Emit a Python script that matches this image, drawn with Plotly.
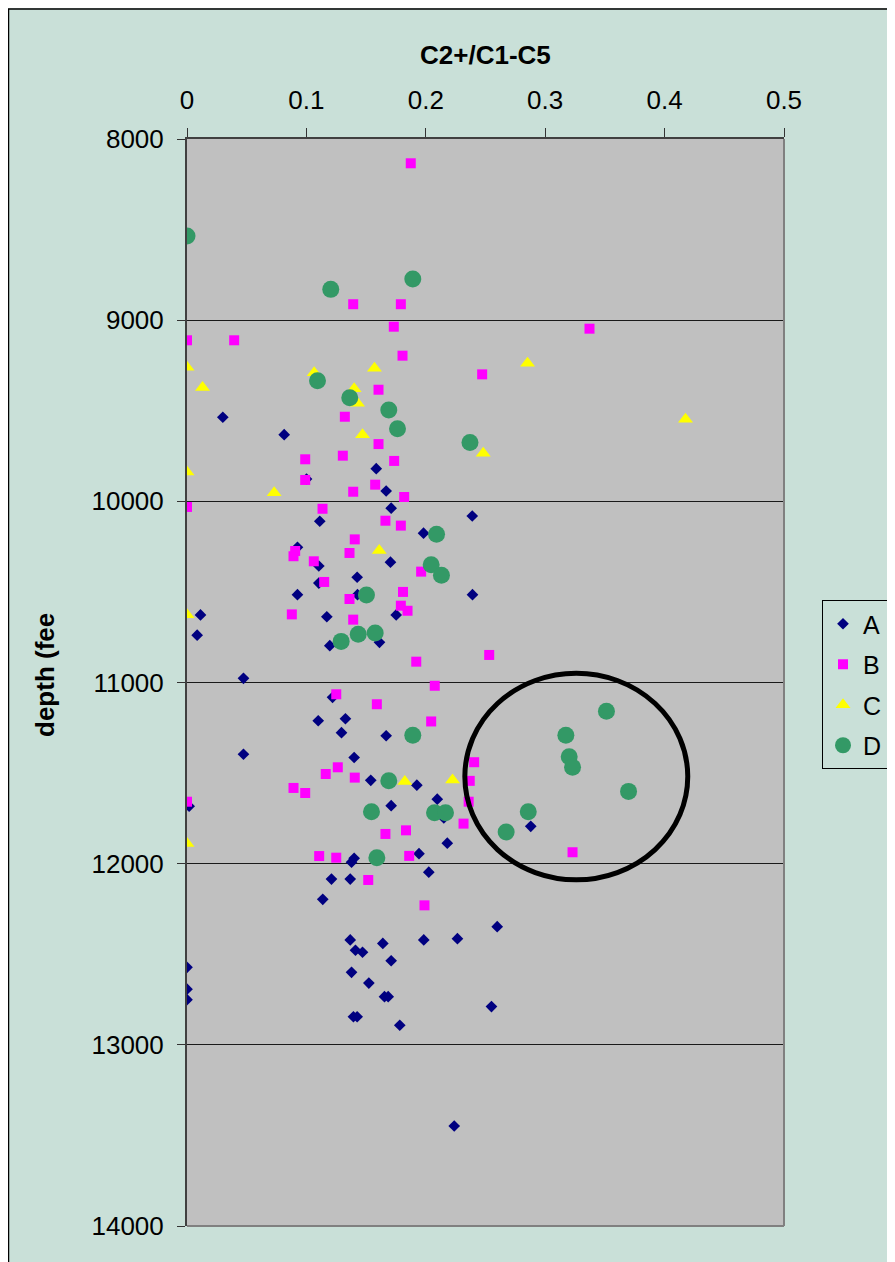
import plotly.graph_objects as go

# ---- data: (C2+/C1-C5 ratio, depth in feet) ----
a_ratio = [0.0300, 0.0814, 0.1585, 0.1001, 0.1668, 0.1710, 0.2389, 0.1112, 0.1981, 0.0925,
           0.1704, 0.1104, 0.1425, 0.1104, 0.1428, 0.0925, 0.2391, 0.0113, 0.1171, 0.1752,
           0.0085, 0.1196, 0.1612, 0.0473, 0.1219, 0.1099, 0.1327, 0.1294, 0.1668, 0.0473,
           0.1400, 0.1539, 0.1925, 0.2096, 0.2151, 0.2879, 0.2180, 0.1943, 0.2025, 0.0018,
           0.1710, 0.1400, 0.1378, 0.1210, 0.1367, 0.1137, 0.1367, 0.1411, 0.1470, 0.1640,
           0.1710, 0.1983, 0.2265, 0.2598, 0.0000, 0.1378, 0.1523, 0.0000, 0.0000, 0.1654,
           0.1685, 0.1394, 0.1425, 0.1782, 0.2550, 0.2238]
a_depth = [9536, 9632, 9820, 9877, 9943, 10038, 10081, 10110, 10176, 10254,
           10336, 10357, 10419, 10451, 10515, 10515, 10515, 10627, 10637, 10627,
           10739, 10797, 10778, 10977, 11082, 11211, 11200, 11277, 11294, 11396,
           11414, 11540, 11567, 11644, 11748, 11794, 11887, 11945, 12047, 11683,
           11680, 11970, 11992, 12085, 12085, 12197, 12421, 12478, 12489, 12440,
           12536, 12421, 12414, 12348, 12572, 12600, 12659, 12693, 12751, 12734,
           12734, 12845, 12845, 12892, 12789, 13448]

b_ratio = [0.1874, 0.1392, 0.1791, 0.1732, 0.0000, 0.0395, 0.1805, 0.2472, 0.1604, 0.1322,
           0.1604, 0.3371, 0.0990, 0.1305, 0.1735, 0.0990, 0.1576, 0.1392, 0.1819, 0.0000,
           0.1135, 0.1662, 0.1791, 0.1405, 0.1361, 0.0906, 0.0892, 0.1062, 0.1149, 0.1961,
           0.1809, 0.1361, 0.1791, 0.1847, 0.0878, 0.1392, 0.1920, 0.2531, 0.2075, 0.1250,
           0.1590, 0.2045, 0.2405, 0.2368, 0.2359, 0.2316, 0.1834, 0.1861, 0.3229, 0.1263,
           0.1162, 0.1405, 0.0892, 0.0990, 0.0000, 0.1662, 0.1107, 0.1250, 0.1518, 0.1989]
b_depth = [8134, 8912, 8912, 9036, 9111, 9111, 9196, 9299, 9384, 9533,
           9684, 9047, 9768, 9748, 9777, 9882, 9908, 9947, 9976, 10031,
           10041, 10107, 10134, 10210, 10285, 10274, 10303, 10331, 10445, 10388,
           10500, 10539, 10576, 10604, 10624, 10653, 10885, 10848, 11018, 11065,
           11120, 11215, 11440, 11543, 11658, 11779, 11816, 11957, 11937, 11468,
           11505, 11525, 11582, 11610, 11658, 11836, 11958, 11967, 12090, 12230]

c_ratio = [0.0000, 0.0130, 0.1065, 0.1570, 0.1400, 0.1428, 0.1470, 0.2481, 0.0000, 0.0730,
           0.1610, 0.0000, 0.2852, 0.4175, 0.1824, 0.2224, 0.0000]
c_depth = [9260, 9371, 9290, 9266, 9378, 9459, 9632, 9735, 9838, 9952,
           10272, 10626, 9238, 9547, 11546, 11538, 11888]

d_ratio = [0.0000, 0.1204, 0.1891, 0.1093, 0.1363, 0.1690, 0.1763, 0.2370, 0.2090, 0.2045,
           0.2131, 0.1503, 0.1576, 0.1434, 0.1291, 0.1891, 0.3513, 0.3173, 0.3201, 0.3229,
           0.3698, 0.2858, 0.2673, 0.1690, 0.1545, 0.2073, 0.2165, 0.1590]
d_depth = [8535, 8830, 8773, 9334, 9428, 9496, 9599, 9675, 10182, 10350,
           10408, 10517, 10727, 10734, 10773, 11291, 11159, 11291, 11410, 11468,
           11601, 11713, 11825, 11542, 11713, 11719, 11719, 11967]

series_names = ["A", "B", "C", "D"]
x_ticks = [0, 0.1, 0.2, 0.3, 0.4, 0.5]
y_ticks = [8000, 9000, 10000, 11000, 12000, 13000, 14000]
highlight = dict(x0=0.2327, x1=0.4194, y0=10949, y1=12089)

BG = "#C9E0D8"
FONT = "Liberation Sans, Arial, sans-serif"

fig = go.Figure()
styles = [
    (a_ratio, a_depth, dict(symbol="diamond", size=9, color="#000080")),
    (b_ratio, b_depth, dict(symbol="square", size=10, color="#FF00FF")),
    (c_ratio, c_depth, dict(symbol="triangle-up", size=13, color="#FFFF00")),
    (d_ratio, d_depth, dict(symbol="circle", size=17, color="#339966")),
]
for name, (xs, ys, mk) in zip(series_names, styles):
    fig.add_trace(go.Scatter(
        x=xs, y=ys, mode="markers", name=name, legendgroup=name,
        marker=dict(symbol=mk["symbol"], size=mk["size"], color=mk["color"],
                    line=dict(width=0)),
    ))

# page pixel -> paper coordinate (figure sits 8px inside the page)
def px_x(p):
    return (p - 187) / 597

def px_y(p):
    return (1226 - p) / 1087

shapes = [
    # chart frame top / left edge
    dict(type="line", xref="paper", yref="paper", x0=px_x(8), x1=1.6, y0=px_y(9), y1=px_y(9),
         line=dict(color="black", width=1.5)),
    dict(type="line", xref="paper", yref="paper", x0=px_x(8.5), x1=px_x(8.5), y0=-0.2, y1=px_y(9),
         line=dict(color="black", width=1.5)),
    # plot area right and bottom border
    dict(type="line", xref="paper", yref="paper", x0=1, x1=1, y0=0, y1=1,
         line=dict(color="#808080", width=2)),
    dict(type="line", xref="paper", yref="paper", x0=0, x1=1, y0=0, y1=0,
         line=dict(color="#808080", width=2)),
    # highlight ellipse
    dict(type="circle", xref="x", yref="y", x0=highlight["x0"], x1=highlight["x1"],
         y0=highlight["y0"], y1=highlight["y1"], line=dict(color="black", width=5)),
]

fig.update_layout(
    width=887, height=1254,
    margin=dict(l=179, r=111, t=131, b=36, autoexpand=False),
    paper_bgcolor=BG, plot_bgcolor="#C0C0C0",
    font=dict(family=FONT, color="black", size=26),
    showlegend=True,
    legend=dict(x=px_x(822), y=px_y(600), xanchor="left", yanchor="top",
                bgcolor=BG, bordercolor="black", borderwidth=1,
                font=dict(size=25, family=FONT), tracegroupgap=5,
                itemsizing="trace"),
    shapes=shapes,
    annotations=[
        dict(text="<b>C2+/C1-C5</b>", xref="paper", yref="paper", x=0.4995, y=px_y(55),
             xanchor="center", yanchor="middle", showarrow=False,
             font=dict(size=26, family=FONT)),
        dict(text="<b>depth (fee</b>", xref="paper", yref="paper", x=px_x(45), y=px_y(675),
             xanchor="center", yanchor="middle", showarrow=False, textangle=-90,
             font=dict(size=26, family=FONT)),
    ],
)
fig.update_xaxes(
    side="top", range=[0, 0.5], tickvals=x_ticks, ticktext=[f"{v:g}" for v in x_ticks],
    ticks="outside", ticklen=9, tickcolor="#333333", tickwidth=1,
    showgrid=False, zeroline=False, showline=True, linecolor="#404040", linewidth=2,
    tickfont=dict(size=26, family=FONT), ticklabelstandoff=9,
)
fig.update_yaxes(
    range=[14000, 8000], tickvals=y_ticks, ticktext=[str(v) for v in y_ticks],
    ticks="outside", ticklen=8, tickcolor="#333333", tickwidth=1,
    showgrid=True, gridcolor="#1a1a1a", gridwidth=1, zeroline=False,
    showline=True, linecolor="#404040", linewidth=2,
    tickfont=dict(size=26, family=FONT), ticklabelstandoff=8,
)

fig.write_html("out.html")
